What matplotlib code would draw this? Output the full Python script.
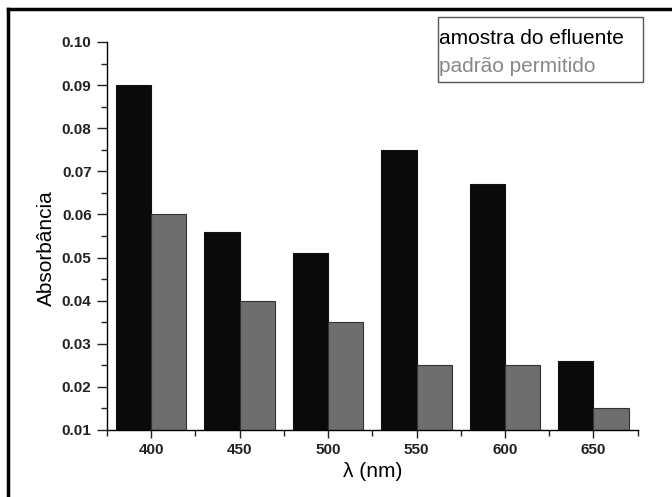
import matplotlib.pyplot as plt
import numpy as np
from matplotlib.lines import Line2D
from matplotlib.patches import Rectangle
from matplotlib.ticker import MultipleLocator

plt.rcParams['font.family'] = ['Liberation Sans', 'DejaVu Sans']

# absorbance
wavelength = [400, 450, 500, 550, 600, 650]
amostra = [0.090, 0.056, 0.051, 0.075, 0.067, 0.026]
padrao = [0.060, 0.040, 0.035, 0.025, 0.025, 0.015]
labels = ["amostra do efluente", "padrão permitido"]

fig = plt.figure(figsize=(6.72, 4.97), dpi=100)
ax = fig.add_axes([0.159, 0.135, 0.79, 0.7805])

x = np.array(wavelength)
w = 20
ax.bar(x - w / 2, amostra, width=w, color='#0a0a0a', edgecolor='#111111', lw=0.8, label=labels[0])
ax.bar(x + w / 2, padrao, width=w, color='#6e6e6e', edgecolor='#333333', lw=0.8, label=labels[1])

ax.set_xlim(375, 675)
ax.set_ylim(0.01, 0.10)
ax.set_xticks(wavelength)
ax.xaxis.set_minor_locator(MultipleLocator(25))
ax.yaxis.set_major_locator(MultipleLocator(0.01))
ax.yaxis.set_minor_locator(MultipleLocator(0.005))
ax.yaxis.set_major_formatter(plt.FormatStrFormatter('%.2f'))
ax.tick_params(which='major', direction='out', length=7, width=1, labelsize=11, colors='#222222')
ax.tick_params(axis='y', which='major', pad=4)
ax.tick_params(axis='x', which='major', length=6, pad=3.5)
ax.tick_params(which='minor', direction='out', length=4, width=1, colors='#222222')
for t in ax.get_xticklabels() + ax.get_yticklabels():
    t.set_fontweight('bold')

for s in ['top', 'right']:
    ax.spines[s].set_visible(False)
ax.spines['left'].set_linewidth(1)
ax.spines['bottom'].set_linewidth(1)

ax.set_xlabel("λ (nm)", fontsize=15)
ax.set_ylabel("Absorbância", fontsize=15)
ax.xaxis.set_label_coords(0.5, -0.084)
ax.yaxis.set_label_coords(-0.096, 0.469)

# legend: text only, box drawn separately since the scan has no left padding
leg = fig.legend(loc='upper left', bbox_to_anchor=(0.654, 0.942), borderaxespad=0,
                 handlelength=0, handletextpad=0, fontsize=15, frameon=False,
                 labelspacing=0.44, borderpad=0)
for h in leg.legend_handles:
    h.set_visible(False)
leg.get_texts()[0].set_color('#000000')
leg.get_texts()[1].set_color('#888888')
fig.add_artist(Rectangle((0.6518, 0.835), 0.305, 0.1308, transform=fig.transFigure,
                         fill=False, edgecolor='#555555', lw=1))

# scanned frame: only top and left edges survive the crop
fig.add_artist(Line2D([0.012, 1.0], [0.982, 0.982], color='black', lw=2.5))
fig.add_artist(Line2D([0.012, 0.012], [0.0, 0.982], color='black', lw=2.5))

fig.savefig("out.png", dpi=100)
